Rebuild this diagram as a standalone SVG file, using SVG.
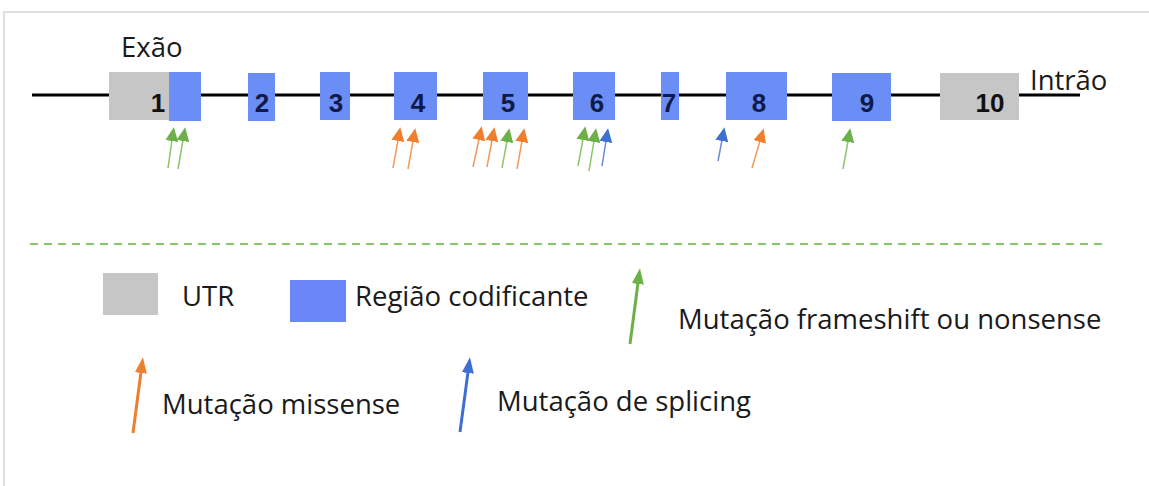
<svg xmlns="http://www.w3.org/2000/svg" width="1149" height="486" viewBox="0 0 1149 486">
<style>
.utr{fill:#c6c6c6}
.cod{fill:#6a8df6}
.num{font-family:"Liberation Sans",Arial,sans-serif;font-weight:bold;font-size:26px;text-anchor:middle;fill:#101a48}
.numb{fill:#111}
.lbl{font-family:"Open Sans","Noto Sans",sans-serif;font-size:27.5px;fill:#1a1a1a}
.mo{stroke:#f39a5a;stroke-width:1.5;fill:none}
.mg{stroke:#8cc56c;stroke-width:1.5;fill:none}
.mb{stroke:#6a8ad6;stroke-width:1.5;fill:none}
.lo{stroke:#ef7f2e;stroke-width:3;fill:none}
.lg{stroke:#6db048;stroke-width:3;fill:none}
.lb{stroke:#3f6fd1;stroke-width:3;fill:none}
</style>
<defs>
<marker id="ho" viewBox="0 0 14 13" refX="1" refY="6.5" markerWidth="14" markerHeight="13" markerUnits="userSpaceOnUse" orient="auto"><path d="M0,0 L14,6.5 L0,13 Z" fill="#ef7f2e"/></marker>
<marker id="hg" viewBox="0 0 14 13" refX="1" refY="6.5" markerWidth="14" markerHeight="13" markerUnits="userSpaceOnUse" orient="auto"><path d="M0,0 L14,6.5 L0,13 Z" fill="#6db048"/></marker>
<marker id="hb" viewBox="0 0 14 13" refX="1" refY="6.5" markerWidth="14" markerHeight="13" markerUnits="userSpaceOnUse" orient="auto"><path d="M0,0 L14,6.5 L0,13 Z" fill="#3f6fd1"/></marker>
<marker id="Lo" viewBox="0 0 16 12" refX="1" refY="6" markerWidth="16" markerHeight="12" markerUnits="userSpaceOnUse" orient="auto"><path d="M0,0 L16,6 L0,12 Z" fill="#ef7f2e"/></marker>
<marker id="Lg" viewBox="0 0 16 12" refX="1" refY="6" markerWidth="16" markerHeight="12" markerUnits="userSpaceOnUse" orient="auto"><path d="M0,0 L16,6 L0,12 Z" fill="#6db048"/></marker>
<marker id="Lb" viewBox="0 0 16 12" refX="1" refY="6" markerWidth="16" markerHeight="12" markerUnits="userSpaceOnUse" orient="auto"><path d="M0,0 L16,6 L0,12 Z" fill="#3f6fd1"/></marker>
</defs>
<rect width="1149" height="486" fill="#fff"/>
<path d="M3,12 H1149 M4,12 V486" stroke="#d6d6d6" stroke-width="1.5" fill="none"/>

<g id="connectors">
<line x1="32" y1="95" x2="1080" y2="95" stroke="#000" stroke-width="3"/>
<line x1="30" y1="244" x2="1108" y2="244" stroke="#8cc46a" stroke-width="2" stroke-dasharray="8,6"/>
</g>

<text class="lbl" x="121" y="57">Exão</text>
<text class="lbl" x="1030" y="90">Intrão</text>

<g id="exon1"><rect class="utr" x="109" y="72" width="60" height="48"/><rect class="cod" x="169" y="72" width="32" height="49"/><text class="num numb" x="158" y="112">1</text></g>
<g id="exon2"><rect class="cod" x="248" y="73" width="27" height="48"/><text class="num" x="262" y="112">2</text></g>
<g id="exon3"><rect class="cod" x="320" y="72" width="30" height="48"/><text class="num" x="336" y="112">3</text></g>
<g id="exon4"><rect class="cod" x="394" y="72" width="43" height="48"/><text class="num" x="418" y="112">4</text></g>
<g id="exon5"><rect class="cod" x="483" y="72" width="45" height="48"/><text class="num" x="508" y="112">5</text></g>
<g id="exon6"><rect class="cod" x="573" y="72" width="42" height="48"/><text class="num" x="597" y="112">6</text></g>
<g id="exon7"><rect class="cod" x="661" y="72" width="18" height="48"/><text class="num" x="669" y="112">7</text></g>
<g id="exon8"><rect class="cod" x="726" y="72" width="61" height="48"/><text class="num" x="759" y="112">8</text></g>
<g id="exon9"><rect class="cod" x="832" y="73" width="59" height="48"/><text class="num" x="867" y="112">9</text></g>
<g id="exon10"><rect class="utr" x="940" y="73" width="79" height="47"/><text class="num numb" x="990" y="112">10</text></g>

<g id="mutations">
<line class="mg" x1="168" y1="168" x2="172" y2="140" marker-end="url(#hg)"/>
<line class="mg" x1="178" y1="169" x2="183" y2="140" marker-end="url(#hg)"/>
<line class="mo" x1="393" y1="168" x2="398" y2="140" marker-end="url(#ho)"/>
<line class="mo" x1="408" y1="169" x2="413" y2="141" marker-end="url(#ho)"/>
<line class="mo" x1="473" y1="167" x2="479" y2="139" marker-end="url(#ho)"/>
<line class="mo" x1="487" y1="167" x2="492" y2="140" marker-end="url(#ho)"/>
<line class="mg" x1="502" y1="168" x2="507" y2="141" marker-end="url(#hg)"/>
<line class="mo" x1="517" y1="169" x2="522" y2="141" marker-end="url(#ho)"/>
<line class="mg" x1="578" y1="166" x2="583" y2="139" marker-end="url(#hg)"/>
<line class="mg" x1="589" y1="171" x2="594" y2="141" marker-end="url(#hg)"/>
<line class="mb" x1="602" y1="166" x2="606" y2="141" marker-end="url(#hb)"/>
<line class="mb" x1="718" y1="161" x2="722" y2="140" marker-end="url(#hb)"/>
<line class="mo" x1="752" y1="168" x2="760" y2="141" marker-end="url(#ho)"/>
<line class="mg" x1="843" y1="169" x2="848" y2="141" marker-end="url(#hg)"/>
</g>

<g id="legend-utr"><rect class="utr" x="103" y="273" width="55" height="42"/><text class="lbl" x="182" y="306">UTR</text></g>
<g id="legend-cod"><rect fill="#6b86f8" x="290" y="280" width="56" height="42"/><text class="lbl" x="355" y="306">Região codificante</text></g>
<g id="legend-frameshift"><line class="lg" x1="630" y1="344" x2="638" y2="283" marker-end="url(#Lg)"/><text class="lbl" x="678" y="329">Mutação frameshift ou nonsense</text></g>
<g id="legend-missense"><line class="lo" x1="133" y1="433" x2="141" y2="372" marker-end="url(#Lo)"/><text class="lbl" x="162" y="414">Mutação missense</text></g>
<g id="legend-splicing"><line class="lb" x1="460" y1="432" x2="468" y2="372" marker-end="url(#Lb)"/><text class="lbl" x="497" y="411">Mutação de splicing</text></g>
</svg>
